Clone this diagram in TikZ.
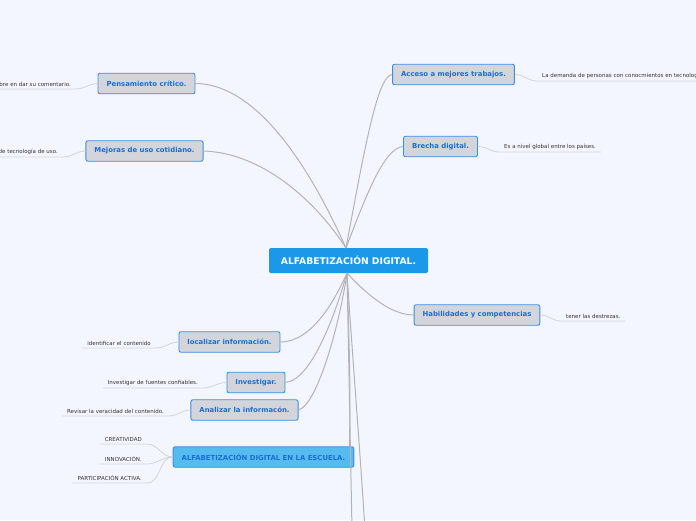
\documentclass[tikz,border=0pt]{standalone}
\usepackage{fontspec}
\setmainfont{DejaVu Sans}
\definecolor{bgblue}{HTML}{F3F6FE}
\definecolor{mainblue}{HTML}{1B98E8}
\definecolor{schoolblue}{HTML}{56BCF0}
\definecolor{topicgray}{HTML}{D3D5DA}
\definecolor{topicline}{HTML}{3A8EE6}
\definecolor{topictext}{HTML}{1A6FD6}
\definecolor{branchgray}{HTML}{B4B4B8}
\definecolor{twiggray}{HTML}{D2D4DA}
\definecolor{leaftext}{HTML}{333333}

\begin{document}
\begin{tikzpicture}[x=1pt,y=-1pt,
    every node/.style={font=\fontsize{6.9}{7}\selectfont\bfseries},
    mainbox/.style={fill=mainblue,text=white,rounded corners=1.5pt,minimum height=25pt,minimum width=159pt,font=\fontsize{9.2}{10}\selectfont\bfseries},
    topic/.style={fill=topicgray,draw=topicline,line width=0.9pt,rounded corners=2pt,text=topictext,minimum height=20.5pt,inner xsep=8.5pt},
    school/.style={topic,fill=schoolblue},
    leaf/.style={font=\fontsize{5.5}{6}\selectfont,text=leaftext,inner xsep=5pt,inner ysep=2pt},
    branch/.style={draw=branchgray,line width=1pt},
    twig/.style={draw=twiggray,line width=0.8pt}]
\fill[bgblue] (0,0) rectangle (696,520);
\useasboundingbox (0,0) rectangle (696,520);

% main topic and branches
\node[mainbox] (root) at (348.5,260.5) {ALFABETIZACIÓN DIGITAL.};
\node[topic] (pens) at (146.5,83.5) {Pensamiento crítico.};
\node[topic] (mejo) at (144.5,151) {Mejoras de uso cotidiano.};
\node[topic] (acce) at (453.5,74.5) {Acceso a mejores trabajos.};
\node[topic] (brec) at (440.5,146.5) {Brecha digital.};
\node[topic] (habi) at (477,315) {Habilidades y competencias};
\node[topic] (loca) at (229.5,342) {localizar información.};
\node[topic] (inve) at (256,382.5) {Investigar.};
\node[topic] (anal) at (244.5,410) {Analizar la informacón.};
\node[school] (escu) at (263.5,457) {ALFABETIZACIÓN DIGITAL EN LA ESCUELA.};

\coordinate (rt) at (346,248);
\coordinate (rb) at (347,273);
\coordinate (off1) at (352,530);
\coordinate (off2) at (365,530);

\draw[branch] (pens.east) .. controls (265,84) and (320,190) .. (rt);
\draw[branch] (mejo.east) .. controls (262,153) and (315,200) .. (rt);
\draw[branch] (acce.west) .. controls (378,76) and (366,140) .. (rt);
\draw[branch] (brec.west) .. controls (385,148) and (368,190) .. (rt);
\draw[branch] (rb) .. controls (368,296) and (392,315) .. (habi.west);
\draw[branch] (loca.east) .. controls (312,342) and (335,300) .. (rb);
\draw[branch] (inve.east) .. controls (312,380) and (336,312) .. (rb);
\draw[branch] (anal.east) .. controls (318,404) and (340,322) .. (rb);
\draw[branch] (rb) .. controls (349,330) and (351,400) .. ([xshift=-5pt]escu.north east);
\draw[branch] (rb) -- (off1);
\draw[branch] (rb) .. controls (352,350) and (360,450) .. (off2);

% leaves
\node[leaf,anchor=south east] (lf1) at (76,89) {bre en dar su comentario.};
\node[leaf,anchor=south east] (lf2) at (63,157) {de tecnología de uso.};
\node[leaf,anchor=south west] (lf3) at (537,81) {La demanda de personas con conocmientos en tecnología.};
\node[leaf,anchor=south west] (lf4) at (499,152) {Es a nivel global entre los países.};
\node[leaf,anchor=south west] (lf5) at (561,321) {tener las destrezas.};
\node[leaf,anchor=south east] (lf6) at (156,348) {identificar el contenido};
\node[leaf,anchor=south east] (lf7) at (203,388) {Investigar de fuentes confiables.};
\node[leaf,anchor=south east] (lf8) at (169,416) {Revisar la veracidad del contenido.};
\node[leaf,anchor=south east] (lf9) at (147,444) {CREATIVIDAD};
\node[leaf,anchor=south east] (lf10) at (147,464) {INNOVACIÓN.};
\node[leaf,anchor=south east] (lf11) at (147,483) {PARTICIPACIÓN ACTIVA.};

\draw[twig] (pens.west) to[out=180,in=0] (lf1.south east) -- (lf1.south west);
\draw[twig] (mejo.west) to[out=180,in=0] (lf2.south east) -- (lf2.south west);
\draw[twig] (acce.east) to[out=0,in=180] (lf3.south west) -- (lf3.south east);
\draw[twig] (brec.east) to[out=0,in=180] (lf4.south west) -- (lf4.south east);
\draw[twig] (habi.east) to[out=0,in=180] (lf5.south west) -- (lf5.south east);
\draw[twig] (loca.west) to[out=180,in=0] (lf6.south east) -- (lf6.south west);
\draw[twig] (inve.west) to[out=180,in=0] (lf7.south east) -- (lf7.south west);
\draw[twig] (anal.west) to[out=180,in=0] (lf8.south east) -- (lf8.south west);
\draw[twig] (escu.west) to[out=180,in=0] (lf9.south east) -- (lf9.south west);
\draw[twig] (escu.west) to[out=180,in=0] (lf10.south east) -- (lf10.south west);
\draw[twig] (escu.west) to[out=180,in=0] (lf11.south east) -- (lf11.south west);
\end{tikzpicture}
\end{document}
